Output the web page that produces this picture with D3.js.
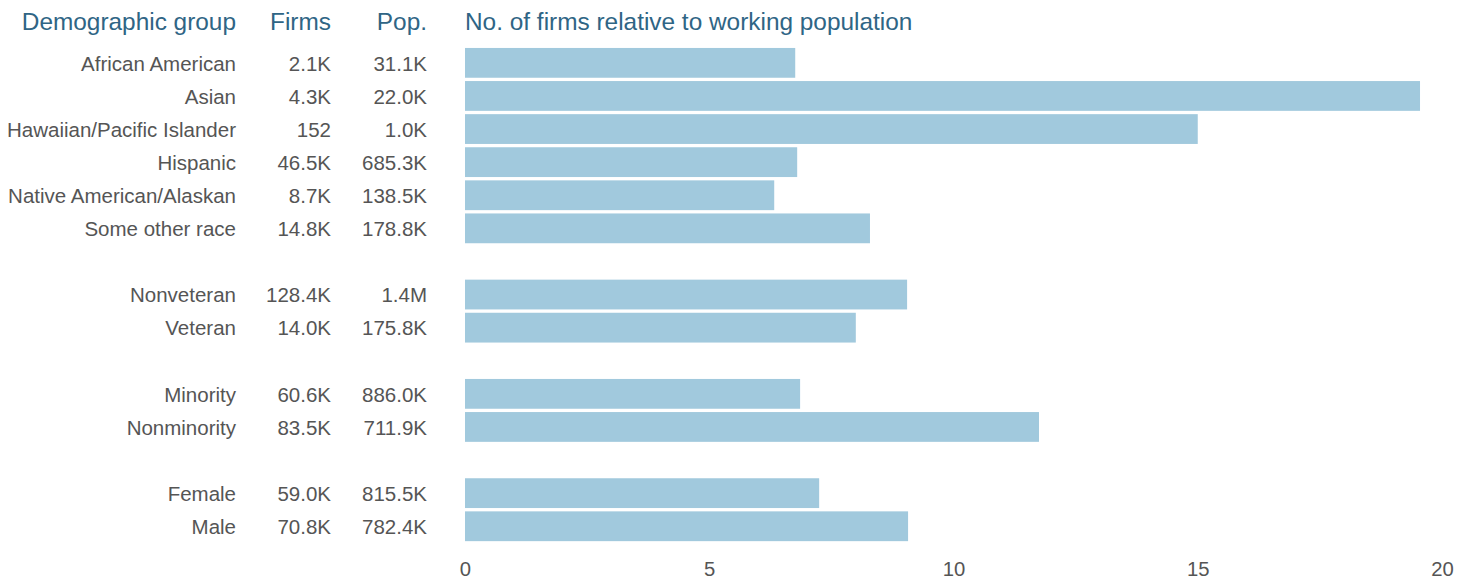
<!DOCTYPE html>
<html>
<head>
<meta charset="utf-8">
<script src="https://cdn.jsdelivr.net/npm/d3@7"></script>
<style>
  body { margin: 0; background: #fff; }
  svg text { font-family: "Liberation Sans", Arial, Helvetica, sans-serif; }
</style>
</head>
<body>
<div id="chart"></div>
<script>
// rows, with "" marking the gaps between groups
var groups = ["African American", "Asian", "Hawaiian/Pacific Islander", "Hispanic", "Native American/Alaskan", "Some other race",
              "", "Nonveteran", "Veteran", "", "Minority", "Nonminority", "", "Female", "Male"];
var firms = ["2.1K", "4.3K", "152", "46.5K", "8.7K", "14.8K", "", "128.4K", "14.0K", "", "60.6K", "83.5K", "", "59.0K", "70.8K"];
var pops = ["31.1K", "22.0K", "1.0K", "685.3K", "138.5K", "178.8K", "", "1.4M", "175.8K", "", "886.0K", "711.9K", "", "815.5K", "782.4K"];
var ratio = [6.76, 19.55, 15.0, 6.8, 6.33, 8.29, null, 9.05, 8.0, null, 6.86, 11.75, null, 7.25, 9.07];
var xTicks = [0, 5, 10, 15, 20];

var width = 1469, height = 580;
var headColor = "#2f6585", textColor = "#555", barColor = "#a1c9dd";

var svg = d3.select("#chart").append("svg")
    .attr("width", width)
    .attr("height", height);

var keys = groups.map(function (d, i) { return "r" + i; });

var y = d3.scaleBand()
    .domain(keys)
    .range([46.3, 542.8])
    .paddingInner(0.1)
    .paddingOuter(0.05);

var x = d3.scaleLinear()
    .domain([0, 20])
    .range([465, 1442]);

// headers
var heads = [
    { t: "Demographic group", x: 236, a: "end" },
    { t: "Firms", x: 331, a: "end" },
    { t: "Pop.", x: 427, a: "end" },
    { t: "No. of firms relative to working population", x: 465, a: "start" }
];
svg.selectAll(".head")
    .data(heads)
    .enter().append("text")
    .attr("class", "head")
    .attr("x", function (d) { return d.x; })
    .attr("y", 30)
    .attr("text-anchor", function (d) { return d.a; })
    .style("font-size", "24.4px")
    .style("fill", headColor)
    .text(function (d) { return d.t; });

// text columns
function column(vals, xPos) {
    svg.append("g").selectAll("text")
        .data(vals)
        .enter().append("text")
        .attr("x", xPos)
        .attr("y", function (d, i) { return y(keys[i]) + y.bandwidth() / 2; })
        .attr("dy", "0.38em")
        .attr("text-anchor", "end")
        .style("font-size", "20.5px")
        .style("fill", textColor)
        .text(function (d) { return d; });
}
column(groups, 236);
column(firms, 331);
column(pops, 427);

// bars
svg.append("g").selectAll("rect")
    .data(ratio.map(function (v, i) { return { k: keys[i], v: v }; }).filter(function (d) { return d.v !== null; }))
    .enter().append("rect")
    .attr("x", x(0))
    .attr("y", function (d) { return y(d.k); })
    .attr("width", function (d) { return x(d.v) - x(0); })
    .attr("height", y.bandwidth())
    .style("fill", barColor);

// axis, labels only
var axis = svg.append("g")
    .attr("transform", "translate(0,562)")
    .call(d3.axisBottom(x).tickValues(xTicks).tickSize(0).tickPadding(0));
axis.select(".domain").remove();
axis.selectAll("text")
    .style("font-size", "20.3px")
    .style("fill", textColor)
    .style("font-family", "Liberation Sans, Arial, sans-serif");
</script>
</body>
</html>
